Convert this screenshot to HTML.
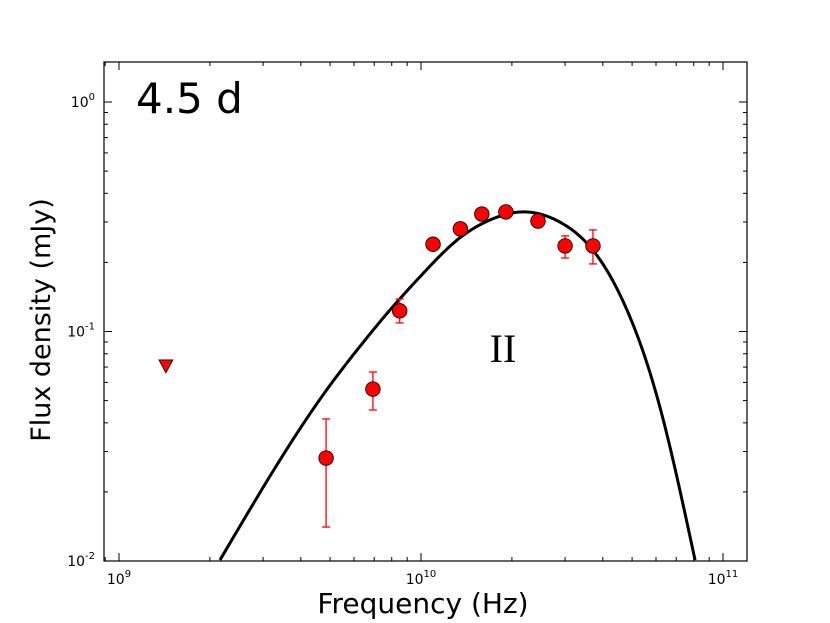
<!DOCTYPE html>
<html><head><meta charset="utf-8"><style>
html,body{margin:0;padding:0;background:#fff;}
svg{display:block;font-family:"DejaVu Sans","Liberation Sans",sans-serif;}
</style></head><body>
<svg id="c" width="830" height="623"></svg>
<script>
const freqs=[4.85e9,6.93e9,8.5e9,10.96e9,13.5e9,15.9e9,19.1e9,24.4e9,30e9,37.1e9];
const flux=[0.0281,0.0561,0.123,0.240,0.280,0.325,0.332,0.303,0.236,0.236];
const errLo=[0.01406,0.0455,0.109,0.240,0.280,0.325,0.332,0.303,0.209,0.197];
const errHi=[0.0416,0.0666,0.1386,0.240,0.280,0.325,0.332,0.303,0.261,0.277];
const limitFreq=[1.43e9];
const limitFlux=[0.0708];
const modelFreq=[2.16e9,4.92e9,6.14e9,7.89e9,10.2e9,13.2e9,16.9e9,21.8e9,28.8e9,37.1e9,48.1e9,61.8e9,80.8e9];
const modelFlux=[0.0101,0.0567,0.083,0.124,0.180,0.251,0.306,0.332,0.300,0.226,0.124,0.0469,0.0101];
const xTickExp=[9,10,11];
const yTickExp=[0,-1,-2];

const NS="http://www.w3.org/2000/svg";
const svg=document.getElementById('c');
const L=104,R=747,T=62,B=561;
function X(f){return 119+(Math.log10(f)-9)*302;}
function Y(v){return 102-Math.log10(v)*229.5;}
function mk(tag,attrs,parent){const e=document.createElementNS(NS,tag);for(const k in attrs)e.setAttribute(k,attrs[k]);(parent||svg).appendChild(e);return e;}
const axes=mk('g',{});


mk('rect',{x:L,y:T,width:R-L,height:B-T,fill:'#fff'},axes);
const ticks=mk('g',{stroke:'#000','stroke-width':1},axes);


for(let e=8;e<=11;e++){for(let m=1;m<10;m++){const x=X(m*Math.pow(10,e));if(x<L||x>R)continue;const len=m==1?8:4;
mk('line',{x1:x,y1:B,x2:x,y2:B-len},ticks);mk('line',{x1:x,y1:T,x2:x,y2:T+len},ticks);}}
for(let e=-3;e<=0;e++){for(let m=1;m<10;m++){const y=Y(m*Math.pow(10,e));if(y<T||y>B)continue;const len=m==1?8:4;
mk('line',{x1:L,y1:y,x2:L+len,y2:y},ticks);mk('line',{x1:R,y1:y,x2:R-len,y2:y},ticks);}}
xTickExp.forEach(e=>{const t=mk('text',{x:X(Math.pow(10,e)),y:584,'font-size':14,'text-anchor':'middle'},axes);


t.innerHTML='10<tspan dy="-7" font-size="10">'+e+'</tspan>';});
yTickExp.forEach(e=>{const t=mk('text',{x:95,y:Y(Math.pow(10,e))+5,'font-size':14,'text-anchor':'end'},axes);


t.innerHTML='10<tspan dy="-7" font-size="10">'+e+'</tspan>';});
const clip=mk('clipPath',{id:'cp'});mk('rect',{x:L,y:T,width:R-L,height:B-T},clip);
const xs=modelFreq.map(f=>Math.log10(f)),ys=modelFlux.map(v=>Math.log10(v));
const n=xs.length,h=[],al=[],l=[1],mu=[0],z=[0],c=new Array(n).fill(0),b=[],dd=[];
for(let i=0;i<n-1;i++)h.push(xs[i+1]-xs[i]);
for(let i=1;i<n-1;i++)al[i]=3/h[i]*(ys[i+1]-ys[i])-3/h[i-1]*(ys[i]-ys[i-1]);
for(let i=1;i<n-1;i++){l[i]=2*(xs[i+1]-xs[i-1])-h[i-1]*mu[i-1];mu[i]=h[i]/l[i];z[i]=(al[i]-h[i-1]*z[i-1])/l[i];}
for(let j=n-2;j>=1;j--){c[j]=z[j]-mu[j]*c[j+1];}
c[0]=0;c[n-1]=0;
for(let j=0;j<n-1;j++){b[j]=(ys[j+1]-ys[j])/h[j]-h[j]*(c[j+1]+2*c[j])/3;dd[j]=(c[j+1]-c[j])/(3*h[j]);}
let d='';
for(let j=0;j<n-1;j++){for(let k=0;k<=20;k++){const t=h[j]*k/20;const yv=ys[j]+b[j]*t+c[j]*t*t+dd[j]*t*t*t;
d+=(d?' L':'M')+X(Math.pow(10,xs[j]+t)).toFixed(2)+','+Y(Math.pow(10,yv)).toFixed(2);}}
const curve=mk('path',{d:d,fill:'none',stroke:'#000','stroke-width':3,'clip-path':'url(#cp)','stroke-linejoin':'round'});


freqs.forEach((f,i)=>{if(errLo[i]==errHi[i])return;const x=X(f),g=mk('g',{stroke:'#f00','stroke-width':1.3});


mk('line',{x1:x,y1:Y(errHi[i]),x2:x,y2:Y(errLo[i])},g);
mk('line',{x1:x-4,y1:Y(errHi[i]),x2:x+4,y2:Y(errHi[i])},g);
mk('line',{x1:x-4,y1:Y(errLo[i]),x2:x+4,y2:Y(errLo[i])},g);});
freqs.forEach((f,i)=>{const c=mk('circle',{cx:X(f),cy:Y(flux[i]),r:7.3,fill:'#f00',stroke:'#000','stroke-width':0.8});

});
limitFreq.forEach((f,i)=>{const x=X(f),y=Y(limitFlux[i]);const p=mk('polygon',{points:(x-7)+','+(y-6)+' '+(x+7)+','+(y-6)+' '+x+','+(y+7),fill:'#f00',stroke:'#000','stroke-width':0.8});

});
const fr=mk('rect',{x:L,y:T,width:R-L,height:B-T,fill:'none',stroke:'#000','stroke-width':1.2},axes);


</script>
<svg style="position:absolute;left:0;top:0" width="830" height="623">
<text x="136" y="113" font-size="42">4.5 d</text>
<text x="503" y="362" font-size="40" text-anchor="middle" font-family="Liberation Serif, serif">II</text>
<text x="423" y="613" font-size="28" text-anchor="middle">Frequency (Hz)</text>
<text transform="translate(50,320) rotate(-90)" font-size="27" text-anchor="middle">Flux density (mJy)</text>
</svg>
</body></html>
